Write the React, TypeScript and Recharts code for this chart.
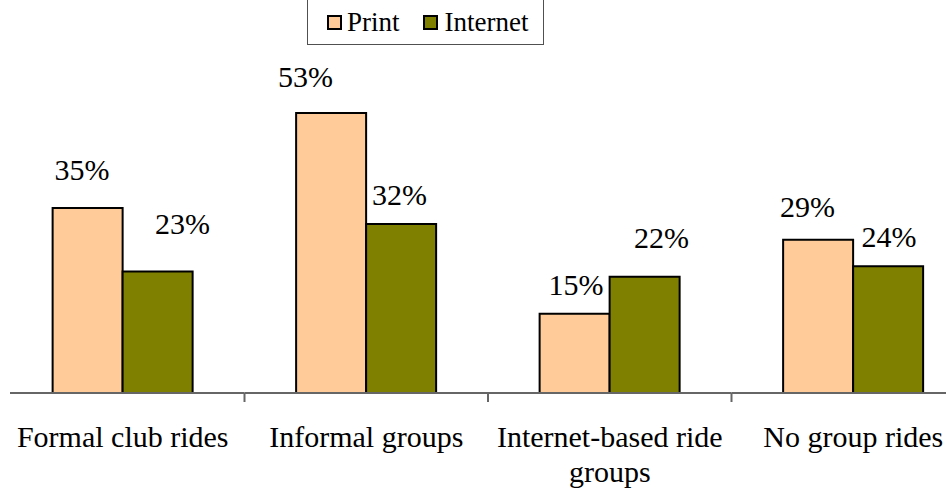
import React from 'react';
import { BarChart, Bar, XAxis, YAxis, LabelList, Legend } from 'recharts';

// Share of riders by group-ride type, split by how they found the ride info
const categories = ['Formal club rides', 'Informal groups', 'Internet-based ride groups', 'No group rides'];
const printShare = [35, 53, 15, 29];
const internetShare = [23, 32, 22, 24];
const seriesNames = ['Print', 'Internet'];

const data = categories.map((name, i) => ({
  name,
  Print: printShare[i],
  Internet: internetShare[i],
}));

const SERIF = '"Liberation Serif", "Times New Roman", Times, "DejaVu Serif", "Noto Serif", serif';
const COLORS: Record<string, string> = { Print: '#FFCC99', Internet: '#808000' };
const AXIS_GREY = '#666666';

const CHART_W = 980;
const CHART_H = 489;
const MARGIN = { top: 76, right: 5, bottom: 0, left: 1 };
const PLOT_W = CHART_W - MARGIN.left - MARGIN.right;
const BAND = PLOT_W / categories.length;
const AXIS_START_X = 10;
const LABEL_MAX_W = 236;

// Hand-placed data labels: [horizontal shift from bar centre, baseline gap above bar top]
const labelOffsets: Record<string, [number, number][]> = {
  Print: [[-5.5, 28], [-25.5, 26], [1.5, 19], [-10.5, 23]],
  Internet: [[25, 37], [-1.5, 19], [17, 29], [1, 19]],
};

// Greedy word wrap measured with a canvas in the label font
let measureCtx: CanvasRenderingContext2D | null = null;
const wrapWords = (label: string, maxW: number, font: string): string[] => {
  if (!measureCtx) measureCtx = document.createElement('canvas').getContext('2d');
  const ctx = measureCtx;
  if (!ctx) return [label];
  ctx.font = font;
  const lines: string[] = [];
  let cur = '';
  label.split(' ').forEach((w) => {
    const next = cur ? `${cur} ${w}` : w;
    if (cur && ctx.measureText(next).width > maxW) {
      lines.push(cur);
      cur = w;
    } else {
      cur = next;
    }
  });
  if (cur) lines.push(cur);
  return lines;
};

const makeValueLabel = (series: string) => (props: any) => {
  const { x, y, width, value, index } = props;
  const idx = typeof index === 'number' ? index : (series === 'Print' ? printShare : internetShare).indexOf(value);
  const [dx, gap] = labelOffsets[series][idx] || [0, 19];
  return (
    <text
      x={Number(x) + Number(width) / 2 + dx}
      y={Number(y) - gap}
      textAnchor="middle"
      fill="#000"
      style={{ fontSize: 30, fontFamily: SERIF }}
    >
      {`${value}%`}
    </text>
  );
};

// Category label, the axis segment under its band and the separator tick at the band's right edge
const CategoryTick = (props: any) => {
  const { x, y, payload, index } = props;
  const left = index === 0 ? AXIS_START_X : x - BAND / 2;
  const edge = x + BAND / 2;
  const lines = wrapWords(String(payload.value), LABEL_MAX_W, `30px ${SERIF}`);
  return (
    <g>
      <line x1={left} y1={y} x2={edge} y2={y} stroke={AXIS_GREY} strokeWidth={2} />
      <line x1={edge} y1={y} x2={edge} y2={y + 9} stroke={AXIS_GREY} strokeWidth={2} />
      <text x={x} y={y + 54} textAnchor="middle" fill="#000" style={{ fontSize: 30, fontFamily: SERIF }}>
        {lines.map((ln, i) => (
          <tspan key={i} x={x} dy={i === 0 ? 0 : 35}>
            {ln}
          </tspan>
        ))}
      </text>
    </g>
  );
};

const LegendBox = () => (
  <div
    style={{
      boxSizing: 'border-box',
      width: 237,
      height: 51,
      border: '1.5px solid #505050',
      display: 'flex',
      alignItems: 'center',
      paddingLeft: 19,
      paddingTop: 6,
      fontFamily: SERIF,
      fontSize: 27,
      color: '#000',
      background: '#fff',
    }}
  >
    {seriesNames.map((s, i) => (
      <div key={s} style={{ display: 'flex', alignItems: 'center', marginRight: i === 0 ? 23 : 0 }}>
        <span
          style={{
            display: 'inline-block',
            boxSizing: 'border-box',
            width: 15,
            height: 15,
            background: COLORS[s],
            border: '2px solid #000',
            marginRight: i === 0 ? 5 : 7,
          }}
        />
        <span style={{ lineHeight: '27px' }}>{s}</span>
      </div>
    ))}
  </div>
);

export default function App() {
  return (
    <div
      style={{
        position: 'absolute',
        left: 0,
        top: 0,
        width: 946,
        height: 489,
        overflow: 'hidden',
        background: '#fff',
      }}
    >
      <BarChart
        width={CHART_W}
        height={CHART_H}
        data={data}
        margin={MARGIN}
        barCategoryGap="21.2%"
        barGap={0}
      >
        <XAxis
          dataKey="name"
          height={96}
          interval={0}
          tickSize={0}
          tickMargin={0}
          tickLine={false}
          axisLine={false}
          tick={<CategoryTick />}
        />
        <YAxis hide domain={[0, 60]} />
        <Legend
          layout="horizontal"
          verticalAlign="middle"
          align="center"
          content={<LegendBox />}
          wrapperStyle={{ left: 307, top: -6, width: 237, height: 51 }}
        />
        {seriesNames.map((s) => (
          <Bar
            key={s}
            dataKey={s}
            name={s}
            fill={COLORS[s]}
            stroke="#000"
            strokeWidth={2}
            isAnimationActive={false}
          >
            <LabelList dataKey={s} content={makeValueLabel(s)} />
          </Bar>
        ))}
      </BarChart>
    </div>
  );
}
